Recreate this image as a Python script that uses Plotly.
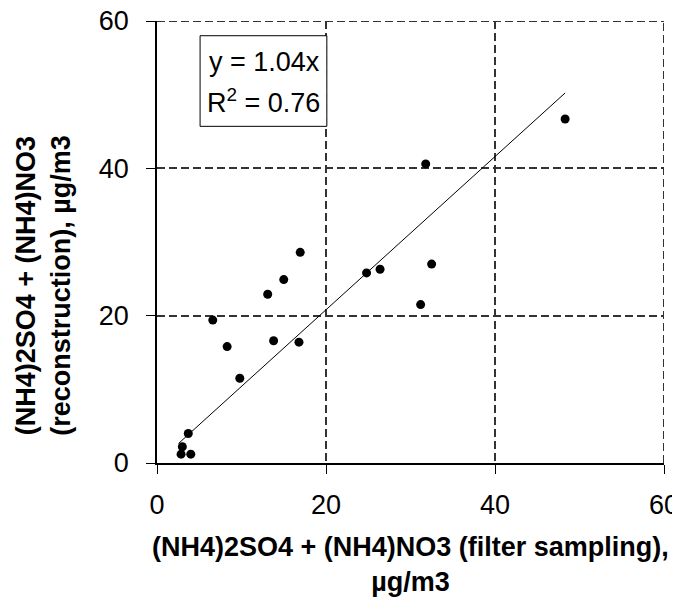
import plotly.graph_objects as go

# Data
filter_sampling = [2.85, 3.0, 4.0, 3.7, 6.6, 8.3, 9.8, 13.1, 13.8, 15.0, 16.95, 16.8,
                   24.8, 26.4, 31.2, 31.8, 32.5, 48.3]
reconstruction = [1.2, 2.2, 1.2, 4.0, 19.4, 15.8, 11.5, 22.9, 16.6, 24.9, 28.6, 16.4,
                  25.8, 26.3, 21.5, 40.6, 27.0, 46.7]
slope = 1.04
r_squared = 0.76
tick_values = [0, 20, 40, 60]

x_title = "<b>(NH4)2SO4 + (NH4)NO3 (filter sampling),<br>µg/m3</b>"
y_title = "<b>(NH4)2SO4 + (NH4)NO3<br>(reconstruction), µg/m3</b>"

FONT = "Liberation Sans, Arial, sans-serif"
FS = 27

trend_x = [min(filter_sampling) - 0.3, max(filter_sampling)]
trend_y = [slope * v for v in trend_x]

fig = go.Figure()
fig.add_trace(go.Scatter(x=trend_x, y=trend_y, mode="lines",
                         line=dict(color="black", width=1), showlegend=False,
                         hoverinfo="skip"))
fig.add_trace(go.Scatter(x=filter_sampling, y=reconstruction, mode="markers",
                         marker=dict(color="black", size=9), showlegend=False))

axis_common = dict(
    range=[0, 60], tickvals=tick_values, ticks="outside", ticklen=9, tickwidth=1,
    tickcolor="black", showline=True, linecolor="black", linewidth=1.5,
    showgrid=True, gridcolor="#333333", gridwidth=2, griddash="8px,4px",
    zeroline=False, tickfont=dict(family=FONT, size=FS, color="black"),
    fixedrange=True, ticklabeloverflow="allow", automargin=False,
)

fig.update_layout(
    width=680, height=598,
    margin=dict(l=149, r=24, t=13, b=143, autoexpand=False),
    plot_bgcolor="white", paper_bgcolor="white",
    xaxis=dict(**axis_common, ticklabelstandoff=8),
    yaxis=dict(**axis_common, ticklabelstandoff=12),
    font=dict(family=FONT, color="black"),
)

# dashed gridlines on the top and right edges (range limits)
grid_line = dict(color="#333333", width=2, dash="8px,4px")
fig.add_shape(type="line", xref="paper", yref="y", x0=0, x1=1, y0=tick_values[-1],
              y1=tick_values[-1], line=grid_line, layer="below")
fig.add_shape(type="line", xref="x", yref="paper", x0=tick_values[-1], x1=tick_values[-1],
              y0=0, y1=1, line=grid_line, layer="below")

# Equation box
fig.add_shape(type="rect", xref="x", yref="y", x0=5.1, x1=20.1, y0=45.7, y1=58.0,
              line=dict(color="black", width=1), fillcolor="white", layer="above")
fig.add_annotation(xref="x", yref="y", x=19.5, y=54.4, xanchor="right", yanchor="middle",
                   text=f"y = {slope:.2f}x", showarrow=False,
                   font=dict(family=FONT, size=FS, color="black"))
fig.add_annotation(xref="x", yref="y", x=19.5, y=49.2, xanchor="right", yanchor="middle",
                   text=f"R<sup>2</sup> = {r_squared:.2f}", showarrow=False,
                   font=dict(family=FONT, size=FS, color="black"))

# Axis titles
fig.add_annotation(xref="paper", yref="paper", x=0.5, y=-0.229, xanchor="center",
                   yanchor="middle", text=x_title, showarrow=False,
                   font=dict(family=FONT, size=FS, color="black"))
fig.add_annotation(xref="paper", yref="paper", x=-0.223, y=0.403, xanchor="center",
                   yanchor="middle", text=y_title, showarrow=False, textangle=-90,
                   font=dict(family=FONT, size=FS, color="black"))

fig.write_html("out.html")
